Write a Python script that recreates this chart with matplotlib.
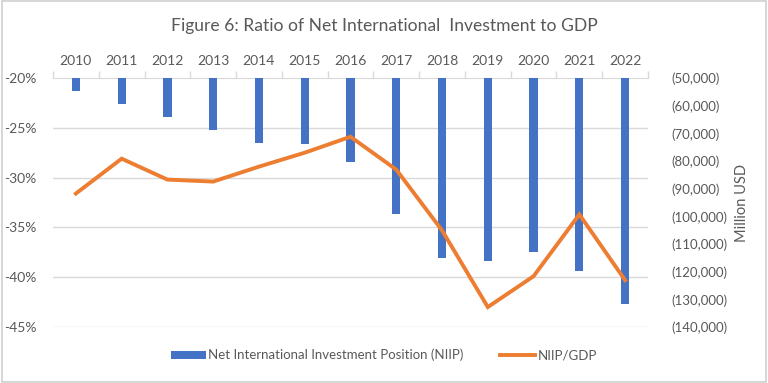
import matplotlib
matplotlib.use("Agg")
import matplotlib.pyplot as plt
import matplotlib.transforms as mtransforms
from matplotlib.ticker import FuncFormatter
from matplotlib.patches import Patch
from matplotlib.lines import Line2D

years = ["2010", "2011", "2012", "2013", "2014", "2015", "2016",
         "2017", "2018", "2019", "2020", "2021", "2022"]
niip_musd = [-54800, -59300, -64000, -68700, -73500, -73900, -80400,
             -99300, -114900, -116100, -112900, -119700, -131600]
niip_gdp_pct = [-31.6, -28.1, -30.2, -30.4, -28.9, -27.5, -25.9,
                -29.2, -35.3, -43.0, -39.9, -33.7, -40.3]
pct_ticks = [-20, -25, -30, -35, -40, -45]
usd_ticks = [-50000, -60000, -70000, -80000, -90000, -100000, -110000,
             -120000, -130000, -140000]

plt.rcParams['font.family'] = ['Lato', 'DejaVu Sans']
GRAY = "#595959"
BLUE = "#4472C4"
ORANGE = "#ED7D31"
GRID = "#D9D9D9"

fig = plt.figure(figsize=(7.68, 3.83), dpi=100)
fig.patches.append(plt.Rectangle((0.002, 0.003), 0.996, 0.994, transform=fig.transFigure,
                                 fill=False, edgecolor="#D0D0D0", linewidth=1.2))
ax_bar = fig.add_axes([53/768, 1-327/383, (648-53)/768, (327-78)/383])
ax_line = ax_bar.twinx()

x = list(range(len(years)))
top = usd_ticks[0]
ax_bar.bar(x, [v - top for v in niip_musd], bottom=top, width=0.18, color=BLUE, zorder=3)
ax_bar.set_ylim(usd_ticks[-1], usd_ticks[0])
ax_bar.set_xlim(-0.5, len(years) - 0.5)
ax_bar.yaxis.tick_right()
ax_bar.set_yticks(usd_ticks)
ax_bar.yaxis.set_major_formatter(FuncFormatter(lambda v, p: "({:,.0f})".format(abs(v))))
ax_bar.tick_params(axis='y', length=0, pad=17, labelsize=9.5, labelcolor=GRAY)
ax_bar.yaxis.set_label_position("right")
ax_bar.set_ylabel("Million USD", color=GRAY, fontsize=10.5, labelpad=5)

# category axis on top
ax_bar.xaxis.tick_top()
ax_bar.set_xticks(x)
ax_bar.set_xticklabels(years)
ax_bar.set_xticks([i - 0.5 for i in range(len(years) + 1)], minor=True)
ax_bar.tick_params(axis='x', which='major', length=0, pad=8, labelsize=10, labelcolor=GRAY)
ax_bar.tick_params(axis='x', which='minor', length=5, color=GRID, width=1, top=True, bottom=False)
for s in ["left", "right", "bottom"]:
    ax_bar.spines[s].set_visible(False)
ax_bar.spines["top"].set_color(GRID)
ax_bar.spines["top"].set_zorder(1)

# line on twin
ax_line.plot(x, niip_gdp_pct, color=ORANGE, linewidth=2.8, zorder=4, solid_joinstyle='miter')
ax_line.set_ylim(pct_ticks[-1], pct_ticks[0])
ax_line.yaxis.tick_left()
ax_line.set_yticks(pct_ticks)
ax_line.set_yticklabels([f"{t}%" for t in pct_ticks])
ax_line.tick_params(axis='y', length=0, pad=12, labelsize=10, labelcolor=GRAY)
for s in ax_line.spines.values():
    s.set_visible(False)

# gridlines behind bars, at percentage ticks
blend = mtransforms.blended_transform_factory(ax_bar.transAxes, ax_line.transData)
for t in pct_ticks[1:]:
    ax_bar.plot([0, 1], [t, t], transform=blend, color=GRID, linewidth=1, zorder=1)

fig.text(0.5, 1 - 31/383, "Figure 6: Ratio of Net International  Investment to GDP",
         ha="center", va="baseline", fontsize=12.6, color=GRAY)

handles = [Patch(facecolor=BLUE, edgecolor='none'),
           Line2D([0], [0], color=ORANGE, linewidth=2.8)]
fig.legend(handles, ["Net International Investment Position (NIIP)", "NIIP/GDP"],
           loc="center", bbox_to_anchor=(0.5, 1 - 355/383), ncol=2, frameon=False,
           fontsize=9.5, labelcolor=GRAY, handlelength=2.6, handleheight=0.55,
           handletextpad=0.2, columnspacing=2.8)

fig.savefig("out.png", dpi=100)
